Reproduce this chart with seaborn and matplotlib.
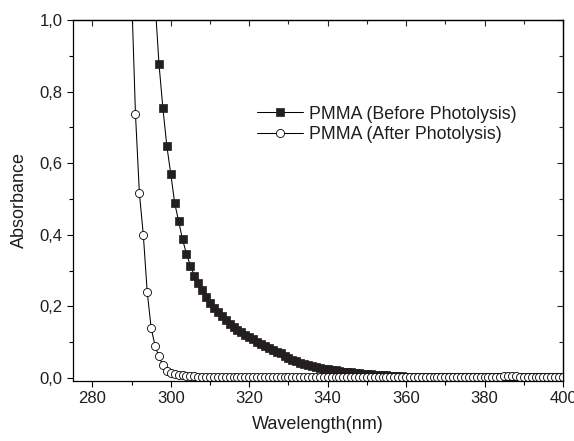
import matplotlib
matplotlib.use("Agg")
import matplotlib.pyplot as plt
import seaborn as sns
import pandas as pd
from matplotlib.ticker import MultipleLocator, FixedLocator, FixedFormatter

# ---------------- data ----------------
wl_before = list(range(295, 401))
abs_before = [
    1.30, 1.05, 0.877, 0.753, 0.648,               # 295-299
    0.570, 0.489, 0.438, 0.387, 0.347, 0.314, 0.286, 0.264, 0.245, 0.226,  # 300-309
    0.209, 0.196, 0.184, 0.172, 0.162, 0.152, 0.143, 0.135, 0.127, 0.120,  # 310-319
    0.115, 0.108, 0.101, 0.095, 0.089, 0.083, 0.077, 0.072, 0.069, 0.060,  # 320-329
    0.055, 0.051, 0.047, 0.043, 0.040, 0.037, 0.034, 0.031, 0.028, 0.026,  # 330-339
    0.024, 0.022, 0.021, 0.019, 0.018, 0.017, 0.016, 0.015, 0.013, 0.012,  # 340-349
    0.011, 0.010, 0.009, 0.008, 0.008, 0.007, 0.006, 0.006, 0.005, 0.005,  # 350-359
    0.004, 0.004, 0.004, 0.003, 0.003, 0.003, 0.003, 0.003, 0.003, 0.002,  # 360-369
    0.002, 0.002, 0.002, 0.002, 0.002, 0.002, 0.002, 0.002, 0.002, 0.002,  # 370-379
    0.002, 0.002, 0.002, 0.002, 0.003, 0.003, 0.003, 0.003, 0.003, 0.003,  # 380-389
    0.002, 0.002, 0.002, 0.002, 0.002, 0.002, 0.002, 0.002, 0.002, 0.002,  # 390-399
    0.002,                                                                  # 400
]

wl_after = list(range(289, 401))
abs_after = [
    1.50, 1.08, 0.738, 0.516, 0.400, 0.240, 0.140, 0.089, 0.060, 0.035, 0.020,  # 289-299
    0.014, 0.011, 0.009, 0.007, 0.006, 0.005, 0.005, 0.004, 0.004, 0.003,  # 300-309
    0.003, 0.002, 0.002, 0.002, 0.002, 0.002, 0.002, 0.002, 0.002, 0.002,  # 310-319
    0.002, 0.002, 0.002, 0.002, 0.002, 0.002, 0.002, 0.002, 0.002, 0.002,  # 320-329
    0.002, 0.002, 0.002, 0.002, 0.002, 0.002, 0.003, 0.003, 0.003, 0.003,  # 330-339
    0.003, 0.003, 0.003, 0.004, 0.004, 0.004, 0.004, 0.003, 0.003, 0.003,  # 340-349
    0.003, 0.002, 0.002, 0.002, 0.002, 0.002, 0.002, 0.002, 0.002, 0.002,  # 350-359
    0.002, 0.002, 0.002, 0.002, 0.002, 0.002, 0.002, 0.002, 0.002, 0.002,  # 360-369
    0.002, 0.002, 0.002, 0.002, 0.002, 0.002, 0.002, 0.002, 0.003, 0.003,  # 370-379
    0.003, 0.003, 0.003, 0.004, 0.004, 0.005, 0.005, 0.005, 0.005, 0.004,  # 380-389
    0.004, 0.003, 0.003, 0.002, 0.002, 0.002, 0.002, 0.002, 0.002, 0.002,  # 390-399
    0.002,                                                                  # 400
]

label_before = "PMMA (Before Photolysis)"
label_after = "PMMA (After Photolysis)"
x_ticks = [280, 300, 320, 340, 360, 380, 400]
y_ticks = [0.0, 0.2, 0.4, 0.6, 0.8, 1.0]
y_tick_labels = ["0,0", "0,2", "0,4", "0,6", "0,8", "1,0"]

df_before = pd.DataFrame({"wl": wl_before, "abs": abs_before})
df_after = pd.DataFrame({"wl": wl_after, "abs": abs_after})

# ---------------- style ----------------
sns.set_theme(style="ticks")
plt.rcParams["font.family"] = ["Liberation Sans", "DejaVu Sans"]
TXT = "#1e1e1e"

fig = plt.figure(figsize=(5.74, 4.41), dpi=100)
ax = fig.add_axes([72.7 / 574, 1 - 381 / 441, (563 - 72.7) / 574, (381 - 20) / 441])

sns.lineplot(data=df_before, x="wl", y="abs", ax=ax, sort=False, estimator=None,
             color="black", linewidth=0.75, marker="s", markersize=5.6,
             markerfacecolor="#231f20", markeredgecolor="#231f20", markeredgewidth=0.5,
             label=label_before)
sns.lineplot(data=df_after, x="wl", y="abs", ax=ax, sort=False, estimator=None,
             color="black", linewidth=0.75, marker="o", markersize=5.8,
             markerfacecolor="white", markeredgecolor="black", markeredgewidth=0.6,
             label=label_after)

ax.set_xlim(275, 400)
ax.set_ylim(-0.0085, 1.0)

ax.xaxis.set_major_locator(FixedLocator(x_ticks))
ax.xaxis.set_minor_locator(MultipleLocator(10))
ax.yaxis.set_major_locator(FixedLocator(y_ticks))
ax.yaxis.set_major_formatter(FixedFormatter(y_tick_labels))
ax.yaxis.set_minor_locator(MultipleLocator(0.1))

for sp in ax.spines.values():
    sp.set_visible(True)
    sp.set_color("black")
    sp.set_linewidth(0.9)

ax.tick_params(axis="both", which="major", direction="out", length=4.5, width=0.8,
               colors="black", labelsize=12, labelcolor=TXT, pad=3)
ax.tick_params(axis="both", which="minor", direction="out", length=2.8, width=0.8,
               colors="black")

# mirrored inward ticks on top/right
top = ax.secondary_xaxis("top")
top.xaxis.set_major_locator(FixedLocator(x_ticks))
top.xaxis.set_minor_locator(MultipleLocator(10))
top.tick_params(which="major", direction="in", length=4.5, width=0.8, labeltop=False)
top.tick_params(which="minor", direction="in", length=2.8, width=0.8)
top.spines["top"].set_linewidth(0.9)

right = ax.secondary_yaxis("right")
right.yaxis.set_major_locator(FixedLocator(y_ticks))
right.yaxis.set_minor_locator(MultipleLocator(0.1))
right.tick_params(which="major", direction="in", length=4.5, width=0.8, labelright=False)
right.tick_params(which="minor", direction="in", length=2.8, width=0.8)
right.spines["right"].set_linewidth(0.9)

ax.set_xlabel("Wavelength(nm)", fontsize=13, color=TXT, labelpad=7)
ax.set_ylabel("Absorbance", fontsize=13, color=TXT, labelpad=8)

leg = ax.legend(loc="center left", bbox_to_anchor=((256.7 - 72.7) / (563 - 72.7), (381 - 124.5) / 361),
                frameon=False, fontsize=12.8, handlelength=2.6, handletextpad=0.35,
                labelspacing=0.22, borderpad=0, borderaxespad=0)
for t in leg.get_texts():
    t.set_color(TXT)

fig.savefig("out.png", dpi=100)
